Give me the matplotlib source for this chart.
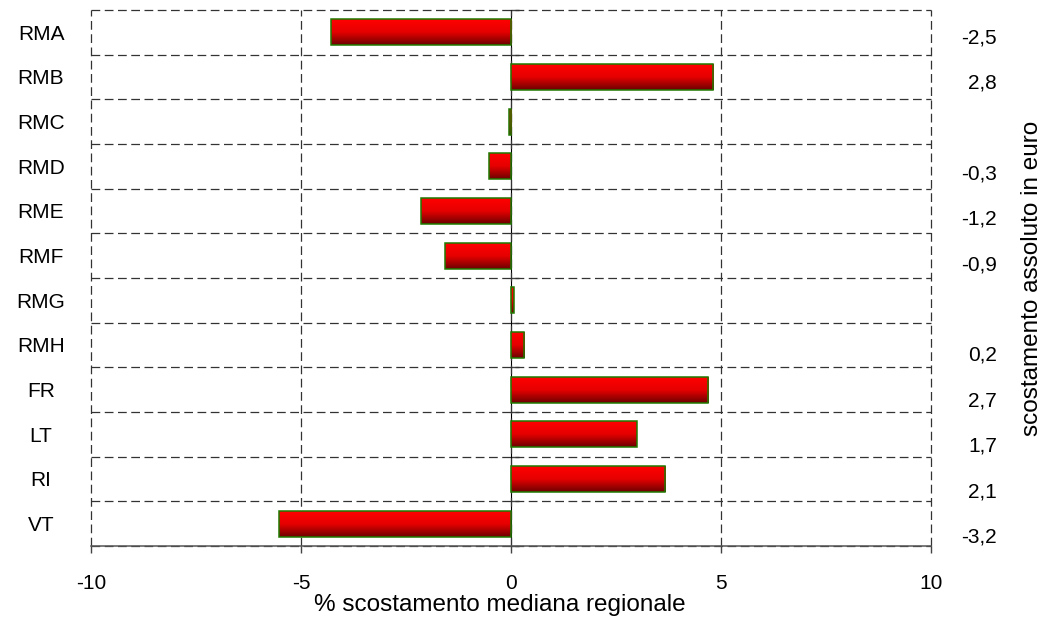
import matplotlib
matplotlib.use("Agg")
import matplotlib.pyplot as plt
from matplotlib.colors import LinearSegmentedColormap
import numpy as np

# dati: scostamento % dalla mediana regionale e scostamento assoluto in euro
categorie = ['RMA', 'RMB', 'RMC', 'RMD', 'RME', 'RMF', 'RMG', 'RMH', 'FR', 'LT', 'RI', 'VT']
scost_perc = [-4.29, 4.82, -0.05, -0.52, -2.14, -1.57, 0.06, 0.31, 4.70, 2.99, 3.67, -5.52]
scost_euro = [-2.5, 2.8, None, -0.3, -1.2, -0.9, None, 0.2, 2.7, 1.7, 2.1, -3.2]
xticks = [-10, -5, 0, 5, 10]

plt.rcParams['font.family'] = ['Liberation Sans', 'DejaVu Sans']

fig = plt.figure(figsize=(10.51, 6.27), dpi=100)
ax = fig.add_axes([91 / 1051, 81 / 627, 840 / 1051, 536 / 627])

y = np.arange(len(categorie))
dash = (0, (7, 3.6))

# barre con bordo verde, riempimento sfumato rosso
bars = ax.barh(y, scost_perc, height=0.58, facecolor='none',
               edgecolor='#1f7a00', linewidth=1.1, zorder=4)
rosso = LinearSegmentedColormap.from_list('rosso', ['#ff0000', '#e60000', '#6e0000'])
grad = np.linspace(0, 1, 64).reshape(-1, 1)
for p in bars:
    x0, x1 = sorted([p.get_x(), p.get_x() + p.get_width()])
    y0 = p.get_y()
    y1 = y0 + p.get_height()
    ax.imshow(grad, extent=(x0, x1, y1, y0), cmap=rosso, aspect='auto',
              origin='upper', interpolation='bilinear', zorder=3)

ax.set_xlim(-10, 10)
ax.set_ylim(len(categorie) - 0.5, -0.5)

# griglia tratteggiata
ax.set_axisbelow(True)
ax.set_xticks(xticks, [str(v) for v in xticks])
ax.grid(axis='x', which='major', linestyle=dash, color='#333333', linewidth=0.9)
ax.set_yticks(np.arange(-0.5, len(categorie)), minor=True)
ax.grid(axis='y', which='minor', linestyle=dash, color='#333333', linewidth=0.9)
for t in ax.xaxis.get_major_ticks() + ax.yaxis.get_minor_ticks():
    t.gridline.set_clip_on(False)
ax.set_yticks(y, categorie)
for lab in ax.get_yticklabels():
    lab.set_horizontalalignment('center')
ax.tick_params(axis='y', which='both', length=0, pad=36, labelsize=15)
ax.tick_params(axis='x', direction='out', length=5, width=1, color='#444444',
               pad=15, labelsize=15)

for s in ['top', 'left', 'right']:
    ax.spines[s].set_visible(False)
ax.spines['bottom'].set_color('#555555')
ax.spines['bottom'].set_linewidth(1.1)

# asse verticale sullo zero
asse0 = ax.secondary_yaxis(0.5)
asse0.set_yticks(np.arange(-0.5, len(categorie)))
asse0.set_yticklabels([])
asse0.tick_params(length=6, width=1, color='#444444', direction='out')
asse0.spines['left'].set_color('#444444')
asse0.spines['left'].set_linewidth(1.2)

ax.set_xlabel('% scostamento mediana regionale', fontsize=17.5)
ax.xaxis.set_label_coords((500 - 91) / 840, (546 - 605) / 536)
ax.xaxis.label.set_verticalalignment('center')

# etichette a destra: scostamento assoluto in euro
ax2 = ax.twinx()
ax2.set_ylim(11.244, -0.573)
etich = ['' if v is None else f'{v:.1f}'.replace('.', ',') for v in scost_euro]
ax2.set_yticks(y, etich)
for lab in ax2.get_yticklabels():
    lab.set_horizontalalignment('right')
ax2.tick_params(axis='y', length=0, pad=47.5, labelsize=15)
for s in ax2.spines.values():
    s.set_visible(False)
ax2.set_ylabel('scostamento assoluto in euro', fontsize=17.5, rotation=90)
ax2.yaxis.set_label_coords((1032 - 91) / 840, 0.5)
ax2.yaxis.label.set_verticalalignment('center')
ax2.yaxis.label.set_horizontalalignment('center')

fig.savefig('out.png', dpi=100)
